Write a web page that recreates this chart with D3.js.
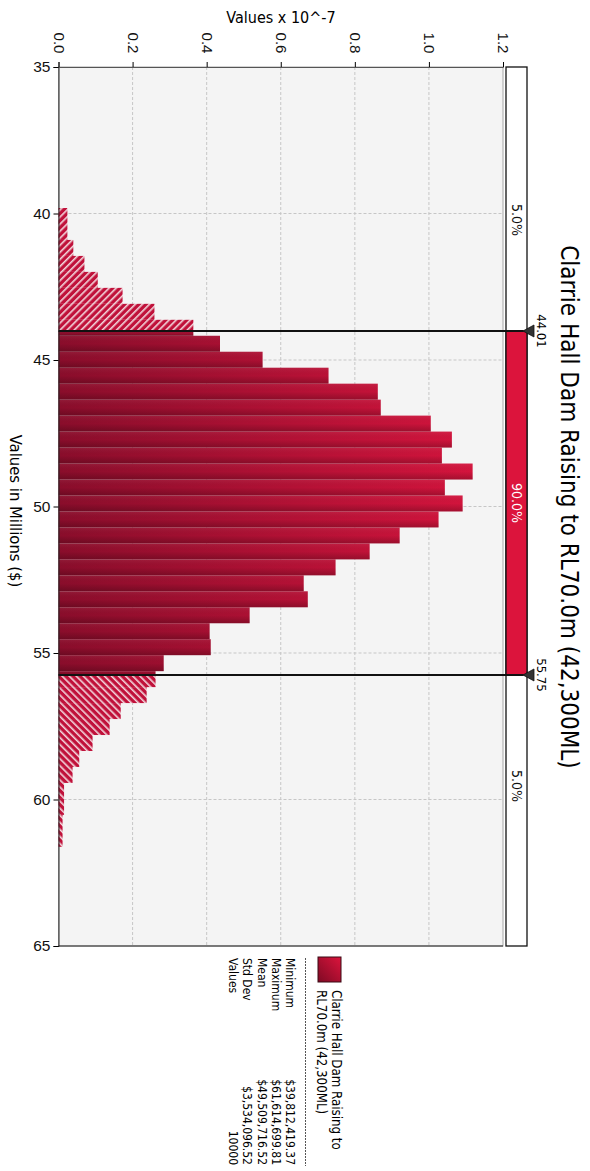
<!DOCTYPE html>
<html>
<head>
<meta charset="utf-8">
<script src="https://cdn.jsdelivr.net/npm/d3@7"></script>
<style>
  body { margin: 0; background: #fff; }
  svg { display: block; font-family: "DejaVu Sans Condensed", "Liberation Sans", sans-serif; }
</style>
</head>
<body>
<div id="chart"></div>
<script>
// simulation summary
const chartTitle = "Clarrie Hall Dam Raising to RL70.0m (42,300ML)";
const minValue = 39.81241937;
const maxValue = 61.61469981;
const binCount = 40;

// density per bin (x 10^-7)
const densities = [
  0.024, 0.024, 0.040, 0.070, 0.106, 0.173, 0.259, 0.364, 0.436, 0.551,
  0.729, 0.862, 0.870, 1.005, 1.062, 1.035, 1.118, 1.043, 1.091, 1.026,
  0.921, 0.840, 0.748, 0.662, 0.673, 0.516, 0.408, 0.411, 0.284, 0.262,
  0.238, 0.168, 0.138, 0.092, 0.056, 0.038, 0.015, 0.015, 0.011, 0.011
];

const delimiters = [44.01, 55.75];
const bandLabels = ["5.0%", "90.0%", "5.0%"];

const valueTicks = [0, 0.2, 0.4, 0.6, 0.8, 1.0, 1.2];
const millionTicks = [35, 40, 45, 50, 55, 60, 65];

const statLabels = ["Minimum", "Maximum", "Mean", "Std Dev", "Values"];
const statValues = ["$39,812,419.37", "$61,614,699.81", "$49,509,716.52", "$3,534,096.52", "10000"];

const W = 590, H = 1171;
const PLOT = { LEFT: 58.5, RIGHT: 503, TOP: 67, BOTTOM: 946 };

const svg = d3.select("#chart").append("svg")
    .attr("width", W)
    .attr("height", H);

const defs = svg.append("defs");

const barGrad = defs.append("linearGradient")
    .attr("id", "barGrad")
    .attr("gradientUnits", "userSpaceOnUse")
    .attr("x1", PLOT.LEFT).attr("x2", 480).attr("y1", 0).attr("y2", 0);
barGrad.append("stop").attr("offset", 0).attr("stop-color", "#8a0d2b");
barGrad.append("stop").attr("offset", 1).attr("stop-color", "#d5143d");

const shade = defs.append("linearGradient")
    .attr("id", "shade")
    .attr("x1", 0).attr("x2", 0).attr("y1", 0).attr("y2", 1);
shade.append("stop").attr("offset", 0).attr("stop-color", "#fff").attr("stop-opacity", 0.06);
shade.append("stop").attr("offset", 0.5).attr("stop-color", "#000").attr("stop-opacity", 0);
shade.append("stop").attr("offset", 1).attr("stop-color", "#000").attr("stop-opacity", 0.22);

function hatch(id, angle) {
    const p = defs.append("pattern")
        .attr("id", id)
        .attr("patternUnits", "userSpaceOnUse")
        .attr("width", 5).attr("height", 5)
        .attr("patternTransform", `rotate(${angle})`);
    p.append("rect").attr("width", 5).attr("height", 5).attr("fill", "#c0113a");
    p.append("rect").attr("x", 0).attr("width", 1.6).attr("height", 5).attr("fill", "#f2d6dc");
}
hatch("hatchTop", 45);
hatch("hatchBottom", -45);

const swatchGrad = defs.append("linearGradient")
    .attr("id", "swatchGrad")
    .attr("x1", 0).attr("y1", 1).attr("x2", 1).attr("y2", 0);
swatchGrad.append("stop").attr("offset", 0).attr("stop-color", "#7e0a24");
swatchGrad.append("stop").attr("offset", 1).attr("stop-color", "#dc143c");

// scales
const x = d3.scaleLinear().domain([0, 1.2]).range([PLOT.LEFT, PLOT.RIGHT]);
const y = d3.scaleLinear().domain([35, 65]).range([PLOT.TOP, PLOT.BOTTOM]);

const binWidth = (maxValue - minValue) / binCount;
const bins = densities.map((d, i) => ({
    lo: minValue + i * binWidth,
    hi: minValue + (i + 1) * binWidth,
    value: d
}));

// plot background
svg.append("rect")
    .attr("x", PLOT.LEFT).attr("y", PLOT.TOP)
    .attr("width", PLOT.RIGHT - PLOT.LEFT).attr("height", PLOT.BOTTOM - PLOT.TOP)
    .attr("fill", "#f4f4f4")
    .attr("stroke", "#a8a8a8");

// grid
svg.append("g").selectAll("line")
    .data(valueTicks.slice(1, -1))
    .join("line")
    .attr("x1", d => x(d)).attr("x2", d => x(d))
    .attr("y1", PLOT.TOP).attr("y2", PLOT.BOTTOM)
    .attr("stroke", "#c6c6c6").attr("stroke-dasharray", "3,2");

svg.append("g").selectAll("line")
    .data(millionTicks.slice(1, -1))
    .join("line")
    .attr("x1", PLOT.LEFT).attr("x2", PLOT.RIGHT)
    .attr("y1", d => y(d)).attr("y2", d => y(d))
    .attr("stroke", "#c6c6c6").attr("stroke-dasharray", "3,2");

// bars, split into tail / body pieces at the delimiters
const pieces = [];
bins.forEach(b => {
    const cuts = [b.lo, ...delimiters.filter(c => c > b.lo && c < b.hi), b.hi];
    for (let k = 0; k < cuts.length - 1; k++) {
        const lo = cuts[k], hi = cuts[k + 1];
        const mid = (lo + hi) / 2;
        const zone = mid < delimiters[0] ? "top" : (mid > delimiters[1] ? "bottom" : "body");
        pieces.push({ lo, hi, value: b.value, zone });
    }
});

const barG = svg.append("g");
barG.selectAll("rect.bar")
    .data(pieces)
    .join("rect")
    .attr("class", "bar")
    .attr("x", x(0))
    .attr("y", d => y(d.lo))
    .attr("width", d => x(d.value) - x(0))
    .attr("height", d => y(d.hi) - y(d.lo))
    .attr("fill", d => d.zone === "body" ? "url(#barGrad)" : (d.zone === "top" ? "url(#hatchTop)" : "url(#hatchBottom)"));

barG.selectAll("rect.shade")
    .data(pieces.filter(d => d.zone === "body"))
    .join("rect")
    .attr("class", "shade")
    .attr("x", x(0))
    .attr("y", d => y(d.lo))
    .attr("width", d => x(d.value) - x(0))
    .attr("height", d => y(d.hi) - y(d.lo))
    .attr("fill", "url(#shade)");

// axes
const yAxis = svg.append("g")
    .attr("transform", `translate(${PLOT.LEFT},0)`)
    .call(d3.axisLeft(y).tickValues(millionTicks).tickSize(5).tickPadding(3));
yAxis.select(".domain").attr("stroke", "#222");
yAxis.selectAll("text").attr("font-size", 15.5).attr("fill", "#111");

const xAxis = svg.append("g")
    .attr("transform", `translate(0,${PLOT.TOP})`)
    .call(d3.axisTop(x).tickValues(valueTicks).tickSize(5).tickFormat(d3.format(".1f")));
xAxis.select(".domain").attr("stroke", "#555");
xAxis.selectAll("text")
    .attr("font-size", 15).attr("fill", "#111")
    .attr("text-anchor", "middle")
    .attr("x", 0).attr("y", 0).attr("dy", "0.35em")
    .attr("transform", `translate(0,-24) rotate(90)`);

svg.append("line")
    .attr("x1", PLOT.LEFT).attr("x2", PLOT.RIGHT)
    .attr("y1", PLOT.BOTTOM).attr("y2", PLOT.BOTTOM)
    .attr("stroke", "#222");

svg.append("text")
    .attr("x", 281).attr("y", 23)
    .attr("text-anchor", "middle")
    .attr("font-size", 16)
    .text("Values x 10^-7");

function vtext(px, py, str, size, anchor) {
    return svg.append("text")
        .attr("transform", `translate(${px},${py}) rotate(90)`)
        .attr("text-anchor", anchor || "middle")
        .attr("dy", "0.35em")
        .attr("font-size", size)
        .text(str);
}

vtext(16, 511, "Values in Millions ($)", 16.5);
vtext(569, 507, chartTitle, 24);

// probability band on the right
const BAND = { LEFT: 506, RIGHT: 527 };
svg.append("rect")
    .attr("x", BAND.LEFT).attr("y", PLOT.TOP)
    .attr("width", BAND.RIGHT - BAND.LEFT).attr("height", PLOT.BOTTOM - PLOT.TOP)
    .attr("fill", "#fff").attr("stroke", "#111").attr("stroke-width", 1.3);
svg.append("rect")
    .attr("x", BAND.LEFT).attr("y", y(delimiters[0]))
    .attr("width", BAND.RIGHT - BAND.LEFT).attr("height", y(delimiters[1]) - y(delimiters[0]))
    .attr("fill", "#dc143c").attr("stroke", "#111").attr("stroke-width", 1.3);

const bandCenters = [y(35) + 153, (y(delimiters[0]) + y(delimiters[1])) / 2, y(delimiters[1]) + 111];
bandLabels.forEach((t, i) => {
    vtext((BAND.LEFT + BAND.RIGHT) / 2, bandCenters[i], t, 14)
        .attr("fill", i === 1 ? "#fff" : "#111");
});

// delimiter lines and markers
delimiters.forEach(d => {
    const py = y(d);
    svg.append("line")
        .attr("x1", PLOT.LEFT).attr("x2", 523)
        .attr("y1", py).attr("y2", py)
        .attr("stroke", "#111").attr("stroke-width", 2);
    svg.append("path")
        .attr("d", `M523,${py} L534,${py - 6} L534,${py + 6} Z`)
        .attr("fill", "#333").attr("stroke", "#111").attr("stroke-width", 0.8);
    vtext(542, py, d3.format(".2f")(d), 13);
});

// legend
svg.append("rect")
    .attr("x", 318).attr("y", 957)
    .attr("width", 23).attr("height", 25)
    .attr("fill", "url(#swatchGrad)")
    .attr("stroke", "#3a0a14");

const legendLines = ["Clarrie Hall Dam Raising to", "RL70.0m (42,300ML)"];
legendLines.forEach((t, i) => {
    svg.append("text")
        .attr("transform", `translate(${332 - i * 15},990) rotate(90)`)
        .attr("font-size", 13.2)
        .text(t);
});

svg.append("line")
    .attr("x1", 305.5).attr("x2", 305.5)
    .attr("y1", 958).attr("y2", 1166)
    .attr("stroke", "#555").attr("stroke-dasharray", "2,1");

statLabels.forEach((t, i) => {
    const bx = 286 - i * 14.2;
    svg.append("text")
        .attr("transform", `translate(${bx},958) rotate(90)`)
        .attr("font-size", 12)
        .text(t);
    svg.append("text")
        .attr("transform", `translate(${bx},1165) rotate(90)`)
        .attr("text-anchor", "end")
        .attr("font-size", 12)
        .text(statValues[i]);
});
</script>
</body>
</html>
